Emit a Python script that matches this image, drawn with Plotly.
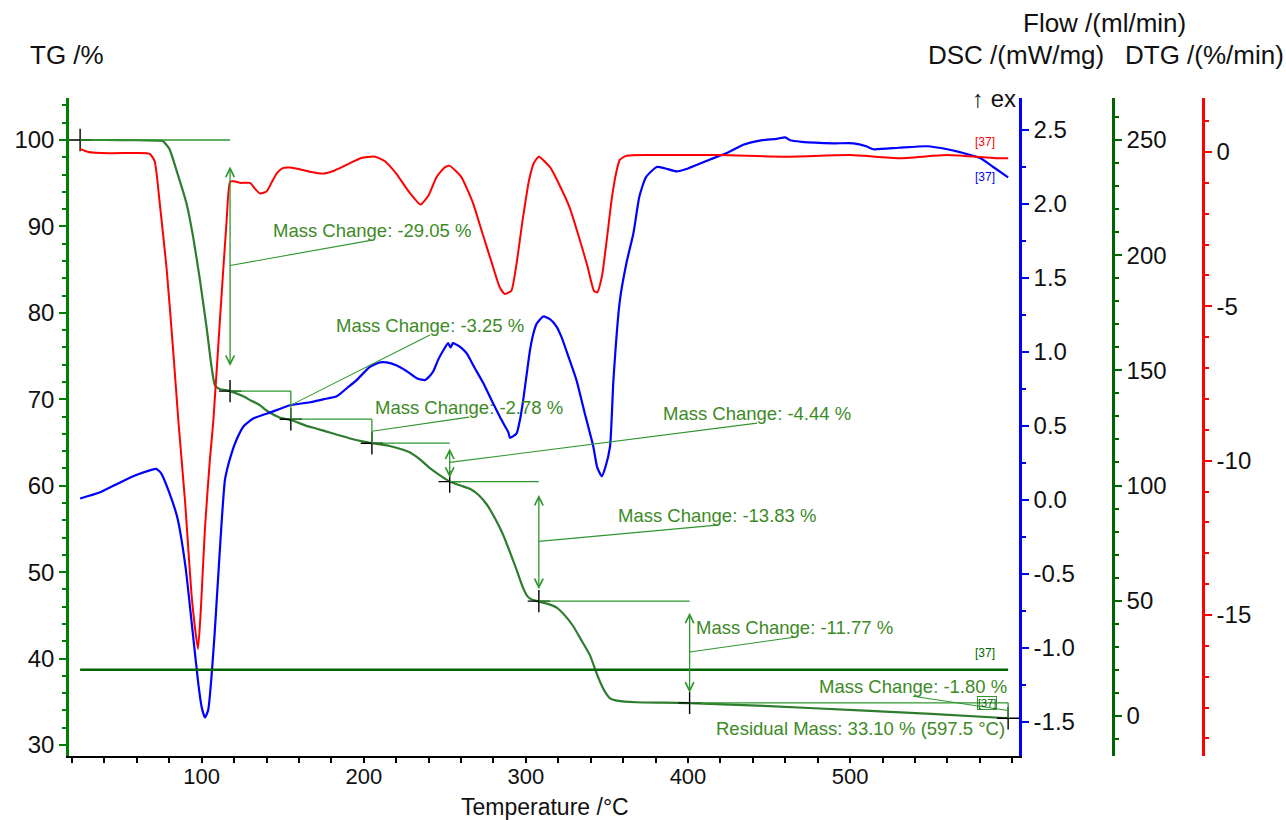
import plotly.graph_objects as go

# ---------------- data ----------------
tg_T = [25, 40, 60, 72, 76, 80, 84.6, 90.7, 94.8, 99, 103.1, 106.2, 108.2, 111, 117.5, 125, 130, 136, 140,
        148, 155, 165, 171, 180, 191, 200, 205, 216, 228, 235, 241, 247, 253, 260, 266, 271, 276, 281, 286,
        290, 294, 298, 301, 304, 308, 314, 319, 324, 329, 334, 339.5, 343, 346, 349, 352, 357, 368, 385,
        401, 450, 506, 550, 597.5]
tg_val = [100.0, 100.0, 99.97, 99.93, 99.88, 99.0, 96.4, 92.6, 88.7, 83.7, 78.2, 73.6, 71.6, 71.2, 70.95,
          70.4, 69.9, 69.3, 68.7, 67.9, 67.6, 66.9, 66.6, 66.1, 65.5, 65.1, 64.92, 64.6, 63.9, 63.0, 62.0,
          61.2, 60.5, 60.0, 59.6, 58.9, 57.8, 56.2, 54.3, 52.4, 50.4, 48.3, 47.2, 46.8, 46.6, 46.3, 45.9,
          45.0, 43.8, 42.2, 40.4, 38.6, 37.2, 36.1, 35.4, 35.1, 34.95, 34.9, 34.85, 34.5, 34.0, 33.6, 33.1]

dtg_T = [25, 30, 43, 60, 68, 71, 74, 78.4, 82.5, 85.6, 89.7, 94, 97.7, 99.5, 102, 105, 107.2, 111.3, 115.4,
         117.5, 120, 123.6, 129.8, 133, 136, 140, 143, 146.3, 150, 154.5, 160, 166.8, 175, 182, 190, 198,
         207, 213, 220, 228, 235, 240, 245, 250, 253, 260, 267, 273, 279, 284, 287, 291, 294, 298, 302,
         305, 308, 315, 321, 327, 333, 338, 342, 344, 347, 350, 353, 356, 358, 362, 380, 420, 460, 500,
         530, 560, 590, 597.5]
dtg_val = [0.1, 0.0, -0.04, -0.03, -0.06, -0.3, -1.6, -3.8, -6.5, -8.7, -11.3, -14.5, -16.1, -14.8, -12.2,
           -10.0, -8.7, -5.4, -2.2, -0.96, -0.95, -1.0, -1.0, -1.2, -1.34, -1.28, -1.0, -0.69, -0.52, -0.5,
           -0.55, -0.64, -0.7, -0.6, -0.4, -0.2, -0.15, -0.3, -0.7, -1.3, -1.7, -1.4, -0.8, -0.5, -0.45,
           -0.8, -1.6, -2.6, -3.6, -4.4, -4.6, -4.5, -3.7, -2.2, -0.9, -0.35, -0.15, -0.5, -1.1, -1.8, -2.8,
           -3.7, -4.5, -4.55, -4.0, -2.8, -1.5, -0.6, -0.25, -0.12, -0.1, -0.1, -0.15, -0.1, -0.2, -0.1,
           -0.2, -0.2]

dsc_T = [25, 37, 50, 60, 68, 72, 75, 80, 85, 90, 95, 98, 100, 102, 104, 106, 108, 110, 112, 114.4, 118,
         121.6, 126, 131.8, 142, 154.5, 166.8, 175, 183.3, 190, 195.6, 203.8, 210, 214, 220, 226.5, 233,
         237.7, 240, 242.9, 246, 249, 252, 253.5, 255, 257, 260, 263.5, 268, 273.7, 279, 284, 287, 289.1,
         290.2, 292, 294.3, 296.5, 298.4, 300.5, 302.5, 304.5, 306.6, 310.7, 315, 319, 322, 326.2, 331.2,
         336, 341.6, 344, 346.8, 349, 351.9, 354, 358, 362, 366.3, 370, 374, 380.7, 386, 393, 400, 413.6,
         425, 434.1, 445, 454.7, 460, 463, 470, 490, 502, 510, 514.3, 530, 547.3, 560, 567.8, 580.2, 588.3,
         597.5]
dsc_val = [0.01, 0.05, 0.12, 0.17, 0.2, 0.21, 0.18, 0.05, -0.12, -0.45, -0.95, -1.25, -1.4, -1.47, -1.42,
           -1.2, -0.9, -0.55, -0.2, 0.14, 0.3, 0.41, 0.5, 0.55, 0.59, 0.64, 0.66, 0.68, 0.7, 0.76, 0.81,
           0.9, 0.93, 0.93, 0.91, 0.87, 0.82, 0.81, 0.83, 0.87, 0.95, 1.01, 1.06, 1.03, 1.06, 1.05, 1.03,
           0.99, 0.9, 0.79, 0.67, 0.56, 0.5, 0.46, 0.42, 0.43, 0.45, 0.55, 0.68, 0.85, 1.01, 1.12, 1.19,
           1.24, 1.22, 1.17, 1.1, 0.97, 0.81, 0.6, 0.36, 0.22, 0.16, 0.22, 0.36, 0.81, 1.35, 1.6, 1.8,
           2.05, 2.18, 2.25, 2.24, 2.22, 2.24, 2.3, 2.35, 2.4, 2.43, 2.44, 2.45, 2.43, 2.42, 2.41, 2.41,
           2.39, 2.37, 2.38, 2.39, 2.37, 2.35, 2.31, 2.25, 2.18]

flow_T = [25, 100, 200, 300, 400, 500, 597.5]
flow_val = [20, 20, 20, 20, 20, 20, 20]

step_T = [25, 117.5, 155, 205, 253, 308, 401, 597.5]
step_TG = [100.0, 70.95, 67.70, 64.92, 60.48, 46.65, 34.88, 33.10]
mass_change = [-29.05, -3.25, -2.78, -4.44, -13.83, -11.77, -1.80]

x_ticks = [100, 200, 300, 400, 500]
tg_ticks = [30, 40, 50, 60, 70, 80, 90, 100]
dsc_ticks = [-1.5, -1.0, -0.5, 0.0, 0.5, 1.0, 1.5, 2.0, 2.5]
dsc_ticktext = ["-1.5", "-1.0", "-0.5", "0.0", "0.5", "1.0", "1.5", "2.0", "2.5"]
flow_ticks = [0, 50, 100, 150, 200, 250]
dtg_ticks = [-15, -10, -5, 0]
dtg_ticktext = ["-15", "-10", "-5", "0"]

# ---------------- layout helpers (positions, not data) ----------------
label_T = [205.1, 240.8, 264.9, 442.6, 417.9, 465.4, 538.8]
label_TG = [89.58, 78.59, 69.10, 68.40, 56.60, 43.63, 36.81]
resid_pos = (506.7, 31.94)
leader_drop = 1.16
arrow_min_step = 4.0   # smaller steps get a plain connector instead of a double arrow

W, H = 1286, 820
ML, MR, MT, MB = 69, 76, 98, 64
PW = W - ML - MR
PH = H - MT - MB


def px(xp):
    return (xp - ML) / PW


def py(yp):
    return (H - MB - yp) / PH


TG_COL = "#2e7d2e"
ANN_COL = "#2f962f"
TXT_COL = "#3d8a26"
FONT = "Liberation Sans, Arial, sans-serif"

fig = go.Figure()
fig.add_trace(go.Scatter(x=flow_T, y=flow_val, yaxis="y3", mode="lines",
                         line=dict(color="#006400", width=2.5), showlegend=False))
fig.add_trace(go.Scatter(x=tg_T, y=tg_val, mode="lines",
                         line=dict(color=TG_COL, width=2.2, shape="spline", smoothing=0.5), showlegend=False))
fig.add_trace(go.Scatter(x=dtg_T, y=dtg_val, yaxis="y4", mode="lines",
                         line=dict(color="#ff0000", width=2, shape="spline", smoothing=0.5), showlegend=False))
fig.add_trace(go.Scatter(x=dsc_T, y=dsc_val, yaxis="y2", mode="lines",
                         line=dict(color="#0000ff", width=2.2, shape="spline", smoothing=0.5), showlegend=False))

shapes = []
annotations = []
for i, dm in enumerate(mass_change):
    t0, t1 = step_T[i], step_T[i + 1]
    g0, g1 = step_TG[i], step_TG[i + 1]
    d = g0 - g1
    # horizontal reference line
    shapes.append(dict(type="line", xref="x", yref="y", x0=t0, x1=t1, y0=g0, y1=g0,
                       line=dict(color=ANN_COL, width=1.3)))
    if abs(dm) >= arrow_min_step:
        annotations.append(dict(x=t1, y=g1 + 0.1 * d, ax=t1, ay=g0 - 0.1 * d, xref="x", yref="y",
                                axref="x", ayref="y", text="", showarrow=True, arrowside="end+start",
                                arrowhead=5, startarrowhead=5, arrowsize=1.3, startarrowsize=1.3,
                                arrowwidth=1.3, arrowcolor=ANN_COL))
    else:
        shapes.append(dict(type="line", xref="x", yref="y", x0=t1, x1=t1, y0=g0, y1=g1,
                           line=dict(color=ANN_COL, width=1.3)))
    # leader line
    shapes.append(dict(type="line", xref="x", yref="y", x0=t1, y0=(g0 + g1) / 2,
                       x1=label_T[i], y1=label_TG[i] - leader_drop,
                       line=dict(color=ANN_COL, width=1.1)))
    annotations.append(dict(x=label_T[i], y=label_TG[i], xref="x", yref="y",
                            text=f"Mass Change: {dm:.2f} %", showarrow=False,
                            font=dict(size=18.5, color=TXT_COL, family=FONT)))

annotations.append(dict(x=resid_pos[0], y=resid_pos[1], xref="x", yref="y",
                        text=f"Residual Mass: {step_TG[-1]:.2f} % ({step_T[-1]} °C)", showarrow=False,
                        font=dict(size=18.5, color=TXT_COL, family=FONT)))

fig.add_trace(go.Scatter(x=step_T, y=step_TG, mode="markers",
                         marker=dict(symbol="cross-thin", size=16, line=dict(color="black", width=1.4)),
                         showlegend=False))

# axis titles and texts
title_font = dict(size=26, color="#111111", family=FONT)
annotations += [
    dict(x=px(67), y=py(55), xref="paper", yref="paper", text="TG /%", showarrow=False,
         xanchor="center", yanchor="middle", font=title_font),
    dict(x=px(1104), y=py(23), xref="paper", yref="paper", text="Flow /(ml/min)", showarrow=False,
         xanchor="center", yanchor="middle", font=title_font),
    dict(x=px(1106), y=py(55), xref="paper", yref="paper", text="DSC /(mW/mg)", showarrow=False,
         xanchor="right", yanchor="middle", font=title_font),
    dict(x=px(1123), y=py(55), xref="paper", yref="paper", text="DTG /(%/min)", showarrow=False,
         xanchor="left", yanchor="middle", font=title_font),
    dict(x=px(1018), y=py(98), xref="paper", yref="paper", text="↑ ex", showarrow=False,
         xanchor="right", yanchor="middle", font=dict(size=24, color="#111111", family=FONT)),
    dict(x=px(545), y=py(807), xref="paper", yref="paper", text="Temperature /°C", showarrow=False,
         xanchor="center", yanchor="middle", font=dict(size=23, color="#111111", family=FONT)),
    dict(x=px(997), y=py(133), xref="paper", yref="paper", text="[37]", showarrow=False,
         font=dict(size=12, color="#ff0000", family=FONT)),
    dict(x=px(997), y=py(168), xref="paper", yref="paper", text="[37]", showarrow=False,
         font=dict(size=12, color="#0000ff", family=FONT)),
    dict(x=px(997), y=py(662), xref="paper", yref="paper", text="[37]", showarrow=False,
         font=dict(size=12, color="#006400", family=FONT)),
    dict(x=px(997), y=py(710), xref="paper", yref="paper", text="[37]", showarrow=False,
         bordercolor=ANN_COL, borderwidth=1, borderpad=0,
         font=dict(size=11, color="#006400", family=FONT)),
]

tickfont = dict(size=24, color="#111111", family=FONT)
fig.update_layout(
    width=W, height=H,
    margin=dict(l=ML, r=MR, t=MT, b=MB, autoexpand=False),
    paper_bgcolor="white", plot_bgcolor="white",
    showlegend=False,
    font=dict(family=FONT),
    xaxis=dict(domain=[0, 950 / PW], range=[18.14, 604.2], showline=True, linecolor="black", linewidth=2,
               ticks="outside", ticklen=0, tickwidth=1.5, tickcolor="black", tickvals=x_ticks,
               minor=dict(dtick=20, tick0=0, ticklen=5, tickwidth=1.5, tickcolor="black", ticks="outside"),
               showgrid=False, zeroline=False, tickfont=dict(size=22, color="#111111", family=FONT),
               automargin=False),
    yaxis=dict(range=[28.73, 104.86], showline=True, linecolor="#008000", linewidth=2.5,
               ticks="outside", ticklen=7, tickwidth=1.5, tickcolor="#008000", tickvals=tg_ticks,
               minor=dict(dtick=2, tick0=0, ticklen=4, tickcolor="#008000", ticks="outside"),
               showgrid=False, zeroline=False, tickfont=tickfont, automargin=False),
    yaxis2=dict(overlaying="y", side="right", anchor="x", range=[-1.73, 2.716], showline=True,
                linecolor="#0000ff", linewidth=2.5, ticks="outside", ticklen=7, tickwidth=1.5,
                tickcolor="#0000ff", tickvals=dsc_ticks, ticktext=dsc_ticktext,
                minor=dict(dtick=0.25, tick0=0, ticklen=4, tickcolor="#0000ff", ticks="outside"),
                showgrid=False, zeroline=False, tickfont=tickfont, automargin=False),
    yaxis3=dict(overlaying="y", side="right", anchor="free", position=(1113 - ML) / PW,
                range=[-17.4, 268.2], showline=True, linecolor="#006400", linewidth=2.5,
                ticks="outside", ticklen=7, tickwidth=1.5, tickcolor="#006400", tickvals=flow_ticks,
                minor=dict(dtick=10, tick0=0, ticklen=4, tickcolor="#006400", ticks="outside"),
                showgrid=False, zeroline=False, tickfont=tickfont, automargin=False),
    yaxis4=dict(overlaying="y", side="right", anchor="free", position=(1203 - ML) / PW,
                range=[-19.57, 1.75], showline=True, linecolor="#ff0000", linewidth=2.5,
                ticks="outside", ticklen=7, tickwidth=1.5, tickcolor="#ff0000", tickvals=dtg_ticks,
                ticktext=dtg_ticktext,
                minor=dict(dtick=1, tick0=0, ticklen=4, tickcolor="#ff0000", ticks="outside"),
                showgrid=False, zeroline=False, tickfont=tickfont, automargin=False),
    shapes=shapes,
    annotations=annotations,
)

fig.write_html("out.html")
